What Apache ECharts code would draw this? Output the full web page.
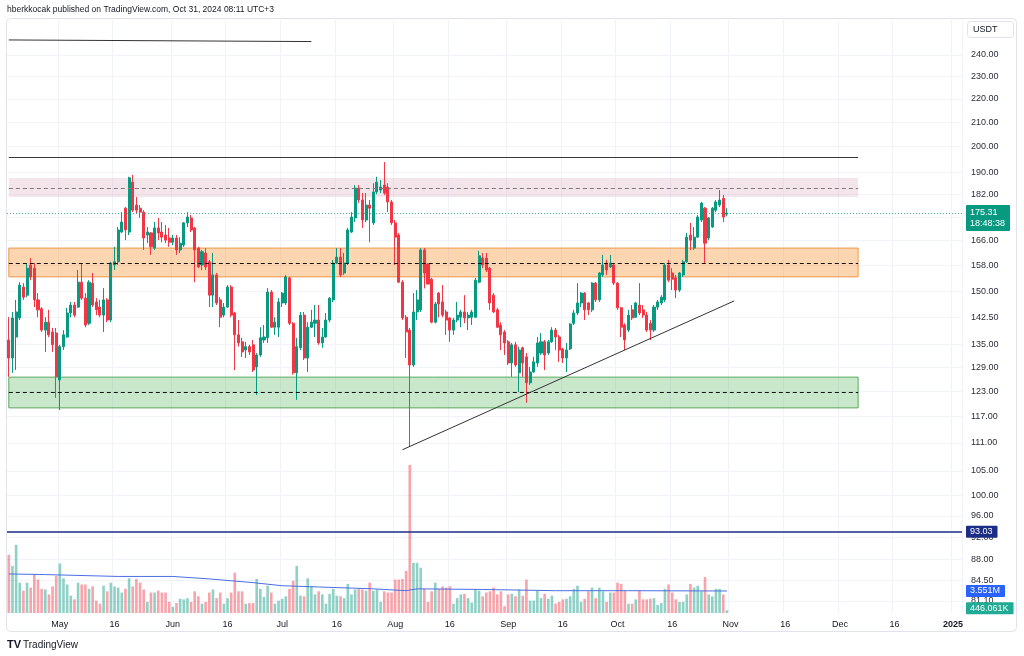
<!DOCTYPE html>
<html>
<head>
<meta charset="utf-8">
<script src="https://cdn.jsdelivr.net/npm/echarts@6/dist/echarts.min.js"></script>
<style>html,body{margin:0;padding:0;background:#fff}#c{width:1024px;height:656px}</style>
</head>
<body>
<div id="c"></div>
<script>
// ---------------- data ----------------
const headerText = 'hberkkocak published on TradingView.com, Oct 31, 2024 08:11 UTC+3';
const startDate = '2024-04-17';
const dayCount = 262; // visible daily slots, Apr 17 2024 .. Jan 3 2025

// daily candles [open, close, low, high]
const candles = [
[136.2,131.4,126.6,142.5],[131.4,142.3,127.6,144.0],[137.0,144.0,128.3,147.5],[142.3,151.9,141.7,152.8],[151.3,148.3,147.5,152.5],
[148.9,157.1,148.3,158.7],[158.1,154.4,153.4,160.3],[157.1,147.5,145.4,158.7],[147.5,144.6,142.5,149.5],[144.9,138.9,138.4,145.4],
[138.9,141.1,133.0,142.5],[141.1,137.6,137.0,144.6],[138.4,134.9,133.0,139.5],[138.1,126.6,121.4,139.5],[125.8,134.4,118.5,134.9],
[134.4,137.6,133.5,138.9],[137.0,143.7,136.8,145.2],[143.7,146.0,142.5,146.9],[146.0,143.1,142.5,146.9],[145.4,152.8,145.2,156.5],
[152.8,148.0,147.5,158.7],[148.0,140.3,139.7,149.5],[140.8,152.8,140.3,153.4],[152.5,146.0,145.4,155.6],[146.9,144.6,143.1,148.0],
[145.4,143.1,142.5,147.5],[143.1,147.5,138.4,151.0],[147.5,141.7,141.1,148.0],[141.7,158.7,141.1,159.1],[158.1,159.1,156.5,163.9],
[159.1,169.5,158.1,170.5],[168.8,172.2,168.5,175.6],[177.0,169.5,166.1,177.4],[168.8,188.0,167.8,188.4],[186.4,176.3,175.6,189.1],
[178.1,176.3,175.3,181.0],[177.0,175.6,173.6,178.1],[175.6,166.8,162.9,176.3],[167.8,168.8,165.1,170.5],[168.5,163.9,161.3,168.8],
[163.5,170.2,162.9,172.2],[170.2,168.5,166.1,173.6],[168.8,167.1,165.4,172.2],[167.8,166.1,165.1,171.2],[166.8,165.4,163.9,170.2],
[165.4,166.8,164.5,167.8],[166.8,162.9,161.3,167.8],[162.9,165.1,161.9,167.1],[164.5,171.9,163.9,172.2],[171.9,173.9,170.5,175.6],
[173.6,169.5,168.8,174.6],[170.2,162.9,152.8,170.5],[163.5,157.5,157.1,163.9],[158.1,162.3,156.5,162.9],[161.9,157.5,156.5,163.5],
[159.1,148.9,145.4,159.7],[148.9,155.0,145.4,161.9],[155.0,146.6,146.0,155.6],[147.5,142.5,139.7,148.3],[143.1,145.4,142.5,146.6],
[145.4,151.3,145.2,151.9],[151.3,143.1,142.5,151.9],[143.7,137.6,128.3,144.0],[137.6,135.4,134.4,141.7],[135.7,133.0,131.7,136.8],
[133.5,134.4,131.4,135.7],[134.4,133.0,132.2,134.9],[134.9,128.3,127.8,136.2],[129.1,132.2,122.1,132.7],[132.2,136.8,131.7,139.7],
[136.2,137.0,135.4,140.3],[136.8,149.8,135.4,151.0],[149.8,139.7,139.5,150.4],[139.7,141.1,137.6,142.5],[139.7,146.9,137.0,148.0],
[146.6,149.5,145.4,149.8],[146.6,154.4,146.0,155.0],[154.1,140.8,140.3,154.4],[140.8,127.6,127.1,141.1],[127.6,134.4,120.9,136.8],
[134.1,143.1,133.5,144.0],[143.1,131.4,130.9,144.0],[131.4,139.7,127.8,141.1],[139.7,141.1,139.5,144.6],[140.8,141.7,137.0,146.0],
[141.7,135.4,134.9,146.0],[135.4,137.0,134.1,139.5],[137.0,141.7,136.8,143.7],[141.7,148.0,141.1,148.3],[147.5,158.7,146.9,159.7],
[158.7,160.6,158.4,163.5],[160.6,155.0,154.4,163.5],[155.6,158.7,155.0,161.9],[158.7,169.5,158.1,170.2],[168.8,173.9,168.5,175.6],
[173.6,184.2,172.2,185.3],[184.2,179.9,178.8,185.3],[179.9,172.9,170.2,182.4],[172.9,178.1,172.2,182.4],[178.1,177.0,165.4,179.9],
[171.9,182.8,171.2,186.0],[182.8,186.4,182.0,188.4],[183.5,184.6,182.4,187.2],[185.3,182.4,181.7,194.0],[184.6,179.2,175.6,186.0],
[179.2,171.9,171.2,179.9],[171.9,167.1,158.1,172.9],[167.8,152.8,152.5,168.5],[152.8,142.3,141.7,153.4],[142.5,138.4,131.4,143.1],
[138.9,129.6,110.1,139.5],[129.6,144.0,129.1,149.5],[144.0,147.5,141.7,150.4],[144.6,162.9,144.0,163.5],[162.9,155.6,150.9,163.5],
[158.4,152.2,152.2,158.7],[153.7,141.1,140.8,154.1],[141.1,146.3,140.8,146.9],[149.5,146.3,142.5,149.8],[146.9,143.1,142.5,151.9],
[144.0,141.7,137.6,144.6],[142.3,138.9,135.7,142.5],[138.9,141.7,137.6,142.3],[141.7,143.1,141.1,146.9],[142.5,144.0,139.7,144.6],
[144.0,142.3,140.8,148.9],[142.3,143.1,138.9,144.0],[142.5,144.0,140.3,144.6],[142.5,153.4,142.3,154.1],[152.8,161.0,152.5,162.6],
[160.3,158.1,157.1,161.9],[160.3,156.5,155.9,161.9],[157.1,146.6,144.6,157.5],[148.9,144.0,143.7,149.5],[144.6,139.7,139.5,145.2],
[140.3,137.6,133.5,141.1],[138.4,135.4,132.2,138.9],[135.7,130.1,129.6,136.2],[130.1,134.9,126.6,135.4],[134.9,129.6,129.1,135.7],
[127.6,133.5,122.8,134.4],[134.1,130.1,126.6,134.4],[131.7,125.1,120.2,132.7],[125.1,127.8,124.6,129.1],[127.8,130.4,127.6,131.7],
[130.1,135.4,129.1,137.0],[132.7,135.7,132.2,138.1],[135.7,132.2,128.3,136.2],[132.7,135.7,132.2,136.2],[135.7,138.9,135.4,139.7],
[138.9,137.0,133.5,139.5],[137.0,133.5,130.4,137.6],[133.8,131.4,130.1,134.1],[131.4,133.5,127.8,135.4],[133.8,140.6,133.5,140.8],
[140.8,143.7,140.3,144.6],[143.7,146.6,143.1,152.5],[146.6,149.5,145.4,149.8],[149.5,144.6,141.7,149.8],[146.6,144.6,143.1,146.9],
[144.6,152.5,144.0,152.8],[152.5,147.5,146.9,152.8],[147.5,155.6,146.9,155.9],[155.0,158.1,154.4,161.3],[158.7,156.5,155.0,159.7],
[157.5,158.7,157.1,161.3],[158.1,152.5,151.9,158.7],[152.5,145.2,144.6,152.8],[145.2,139.7,137.0,145.4],[140.3,136.2,133.5,140.8],
[138.9,143.1,138.4,144.6],[144.6,142.3,141.7,146.0],[142.5,146.6,142.3,146.9],[146.0,143.7,143.1,152.5],[144.6,143.1,142.3,146.0],
[143.1,138.9,138.4,144.0],[140.8,138.9,136.2,141.7],[138.9,145.4,138.4,146.0],[145.4,146.9,144.6,147.5],[146.6,148.3,146.0,148.9],
[147.5,158.1,146.9,158.7],[158.1,153.4,152.8,159.7],[155.6,153.7,150.4,157.1],[154.1,150.4,148.0,155.0],[150.4,155.6,149.8,155.9],
[155.0,159.1,154.4,159.7],[159.1,167.1,158.7,168.5],[167.8,166.1,162.9,171.9],[163.5,167.1,162.9,170.5],[167.1,173.9,166.8,174.6],
[172.9,178.8,172.2,179.2],[177.0,165.1,158.7,177.4],[166.8,173.6,166.1,173.9],[170.5,177.0,170.2,177.4],[176.3,179.2,175.6,179.9],
[178.1,179.9,177.4,183.5],[180.5,173.9,172.2,181.7],[174.9,175.31,174.2,177.0]
];

// daily volume, millions
const volumes = [
9.4,7.6,11.0,4.9,3.6,4.9,4.1,6.3,5.4,3.9,
3.8,3.0,4.3,6.0,8.0,5.6,4.6,2.8,2.2,4.9,
4.6,4.6,3.9,4.3,2.0,1.5,4.4,3.5,4.9,4.3,
4.1,3.3,3.9,5.6,4.3,5.5,4.9,3.8,1.8,3.3,
3.3,3.6,3.3,3.3,1.8,1.0,1.6,2.3,2.2,2.4,
1.8,3.5,2.7,1.5,1.8,3.3,3.8,2.4,3.3,1.5,
2.4,3.3,6.5,3.5,3.5,1.5,1.6,1.6,5.5,3.9,
2.6,4.4,3.3,1.5,2.0,2.3,2.7,3.9,5.2,7.6,
2.8,2.7,5.6,4.3,3.0,3.5,3.0,1.5,3.1,3.9,
2.8,2.7,2.4,4.7,3.0,3.8,3.9,3.8,3.6,4.9,
3.6,3.8,1.8,3.5,3.3,3.3,5.4,5.4,5.5,6.8,
23.9,8.1,8.1,7.3,3.9,1.8,3.5,4.9,3.9,4.3,
4.1,4.3,1.5,2.4,3.0,3.1,2.4,1.7,3.8,3.6,
2.7,3.3,3.5,4.1,3.0,3.5,1.1,3.0,3.1,2.7,
3.8,2.8,5.4,2.0,2.0,3.6,2.4,3.1,2.3,2.8,
1.5,1.8,2.2,2.3,2.7,3.9,4.4,1.8,2.3,3.5,
4.1,2.4,4.1,3.5,1.8,3.3,3.3,4.9,4.7,3.6,
1.5,1.5,2.2,3.6,2.2,2.2,2.3,2.4,1.3,1.6,
3.9,4.6,3.3,2.2,1.8,1.8,3.0,4.7,4.1,4.4,
3.5,5.8,3.0,2.7,3.9,3.9,3.0,0.446061
];

// volume moving average: [day index, millions]
const volumeMA = [[0,6.3],[10,6.2],[30,5.9],[45,5.9],[55,5.5],[67,4.9],[75,4.4],[85,4.2],[100,3.9],[109,3.6],[112,3.9],[130,3.8],[150,3.6],[170,3.6],[197,3.551]];

// price scale tick labels
const priceTicks = [240,230,220,210,200,190,182,174,166,158,150,142.5,135,129,123,117,111,105,100,96,92,88,84.5,81.1];

// drawn zones [low, high] and their mid dashed lines
const pinkZone = [181.0, 187.9];
const orangeZone = [154.4, 163.5];
const greenZone = [119.0, 126.5];
const zoneMids = [184.0, 158.5, 122.8];
const zoneEnd = 233;          // day index where zones end
const resistanceLine = 196.0;
const topLine = [[0, 247.3], [83, 246.5]];
const trendLine = [[108, 109.5], [199, 147.2]];
const lastPrice = 175.31;
const countdown = '18:48:38';
const blueLevel = 93.03;
const volMALast = '3.551M';
const lastVolume = '446.061K';
const MONTHS = ['Jan','Feb','Mar','Apr','May','Jun','Jul','Aug','Sep','Oct','Nov','Dec'];

// ---------------- chart ----------------
const categories = [];
{
  const d0 = new Date(startDate + 'T00:00:00Z');
  for (let i = 0; i < dayCount; i++) {
    const d = new Date(d0.getTime() + i * 86400000);
    categories.push(d.toISOString().slice(0, 10));
  }
}
const isTickDay = (val) => { const d = +val.slice(8, 10); return d === 1 || d === 16; };

const FONT = "'Liberation Sans', Arial, sans-serif";
const TXT = '#131722';
const UP = '#089981', DOWN = '#f23645';
const NOLINE = 'rgba(0,0,0,0)';

const chart = echarts.init(document.getElementById('c'));

const volumeData = volumes.map((v, i) => ({
  value: v,
  itemStyle: { color: candles[i][1] >= candles[i][0] ? 'rgba(8,153,129,0.45)' : 'rgba(242,54,69,0.45)' }
}));

const seg = (a, b, style) => [{ coord: a, lineStyle: style }, { coord: b }];
const boxLabel = (text, bg, pad) => ({
  show: true, position: 'end', distance: 4, formatter: text, backgroundColor: bg, color: '#fff',
  padding: pad || [1, 5, 1, 4], fontSize: 9, lineHeight: 10, fontFamily: FONT, borderRadius: 1
});

const option = {
  animation: false,
  backgroundColor: '#ffffff',
  title: {
    text: headerText, left: 7, top: 5, padding: 0,
    textStyle: { fontSize: 8.5, fontWeight: 'normal', color: TXT, fontFamily: FONT }
  },
  grid: { left: 7, right: 62, top: 20, bottom: 43, containLabel: false, outerBoundsMode: 'none' },
  xAxis: {
    type: 'category', data: categories, boundaryGap: true,
    axisLine: { show: false }, axisTick: { show: false },
    axisLabel: {
      interval: (idx, val) => isTickDay(val),
      formatter: (val) => {
        const d = +val.slice(8, 10), m = +val.slice(5, 7);
        if (d === 16) return '16';
        if (m === 1) return '{b|' + val.slice(0, 4) + '}';
        return MONTHS[m - 1];
      },
      color: TXT, fontSize: 9, fontFamily: FONT, margin: 7,
      rich: { b: { fontWeight: 'bold', fontSize: 9, color: TXT, fontFamily: FONT } }
    },
    splitLine: { show: true, interval: (idx, val) => isTickDay(val), lineStyle: { color: '#f0f3fa', width: 1, type: 'solid' } }
  },
  yAxis: [
    { type: 'log', logBase: 10, min: 79.15, max: 257.3, show: false },
    { type: 'value', min: 0, max: 95.7, show: false }
  ],
  series: [
    { // price grid lines + tick labels
      name: 'ticks', type: 'line', data: [], yAxisIndex: 0, silent: true,
      markLine: {
        silent: true, symbol: ['none', 'none'], z: 0, animation: false,
        lineStyle: { color: '#f0f3fa', width: 1, type: 'solid' },
        label: { show: true, position: 'end', distance: 9, color: '#2a2e39', fontSize: 9, fontFamily: FONT },
        emphasis: { disabled: true },
        data: priceTicks.map(v => ({ yAxis: v, label: { formatter: v.toFixed(2) } }))
      }
    },
    {
      name: 'price', type: 'candlestick', data: candles, yAxisIndex: 0, z: 3, barWidth: '70%',
      itemStyle: { color: UP, color0: DOWN, borderColor: UP, borderColor0: DOWN, borderColorDoji: UP, borderWidth: 1 },
      markArea: {
        silent: true, z: 1,
        data: [
          [{ coord: [0, pinkZone[1]], itemStyle: { color: 'rgba(214,160,180,0.28)', borderWidth: 0 } }, { coord: [zoneEnd, pinkZone[0]] }],
          [{ coord: [0, orangeZone[1]], itemStyle: { color: 'rgba(247,147,50,0.38)', borderColor: '#f0994a', borderWidth: 1 } }, { coord: [zoneEnd, orangeZone[0]] }],
          [{ coord: [0, greenZone[1]], itemStyle: { color: 'rgba(76,175,80,0.3)', borderColor: '#5aa85e', borderWidth: 1 } }, { coord: [zoneEnd, greenZone[0]] }]
        ]
      }
    },
    { // drawn lines
      name: 'drawings', type: 'line', data: [], yAxisIndex: 0, silent: true,
      markLine: {
        silent: true, symbol: ['none', 'none'], z: 5, animation: false,
        label: { show: false }, emphasis: { disabled: true },
        data: [
          seg([0, zoneMids[0]], [zoneEnd, zoneMids[0]], { color: '#7a7a7a', width: 1, type: [4, 3] }),
          seg([0, zoneMids[1]], [zoneEnd, zoneMids[1]], { color: '#111', width: 1, type: [4, 3] }),
          seg([0, zoneMids[2]], [zoneEnd, zoneMids[2]], { color: '#111', width: 1, type: [4, 3] }),
          seg([0, resistanceLine], [zoneEnd, resistanceLine], { color: '#3a3a3a', width: 1.2, type: 'solid' }),
          seg(topLine[0], topLine[1], { color: '#333', width: 1, type: 'solid' }),
          seg(trendLine[0], trendLine[1], { color: '#333', width: 1, type: 'solid' })
        ]
      }
    },
    {
      name: 'volume', type: 'bar', data: volumeData, yAxisIndex: 1, barWidth: '72%', z: 2, silent: true
    },
    {
      name: 'volumeMA', type: 'line', data: volumeMA, yAxisIndex: 1, symbol: 'none', z: 3, silent: true,
      lineStyle: { color: '#4a6fe3', width: 1 }
    },
    { // price level + last price labels
      name: 'levels', type: 'line', data: [], yAxisIndex: 0, silent: true,
      markLine: {
        silent: true, symbol: ['none', 'none'], z: 6, animation: false, emphasis: { disabled: true },
        data: [
          { yAxis: lastPrice, lineStyle: { color: 'rgba(8,153,129,0.75)', width: 1, type: [1, 2] },
            label: Object.assign(boxLabel(lastPrice.toFixed(2) + '\n' + countdown, UP, [2, 5, 2, 4]), { lineHeight: 11, offset: [0, 5] }) },
          { yAxis: blueLevel, lineStyle: { color: '#1b2d86', width: 1.5, type: 'solid' },
            label: boxLabel(blueLevel.toFixed(2), '#1b2d86') }
        ]
      }
    },
    { // volume labels
      name: 'volLabels', type: 'line', data: [], yAxisIndex: 1, silent: true,
      markLine: {
        silent: true, symbol: ['none', 'none'], z: 6, animation: false, emphasis: { disabled: true },
        lineStyle: { color: NOLINE, width: 0, type: 'solid' },
        data: [
          { yAxis: volumeMA[volumeMA.length - 1][1], label: boxLabel(volMALast, '#2962ff') },
          { yAxis: volumes[volumes.length - 1], label: Object.assign(boxLabel(lastVolume, '#22ab94'), { offset: [0, -2] }) }
        ]
      }
    }
  ],
  graphic: [
    { type: 'rect', silent: true, z: -10, shape: { x: 6.5, y: 18.5, width: 1010, height: 613, r: 4 },
      style: { fill: 'none', stroke: '#e0e3eb', lineWidth: 1 } },
    { type: 'rect', silent: true, z: 10, shape: { x: 967.5, y: 21.5, width: 46, height: 16, r: 3 },
      style: { fill: '#fff', stroke: '#e0e3eb', lineWidth: 1 } },
    { type: 'text', silent: true, z: 11, x: 973, y: 29.5,
      style: { text: 'USDT', fill: TXT, font: '9px ' + FONT, verticalAlign: 'middle' } },
    { type: 'text', silent: true, z: 11, x: 7, y: 645,
      style: { text: 'TV', fill: TXT, font: 'bold 11px ' + FONT, verticalAlign: 'middle' } },
    { type: 'text', silent: true, z: 11, x: 23, y: 645,
      style: { text: 'TradingView', fill: TXT, font: '10px ' + FONT, verticalAlign: 'middle' } }
  ]
};
chart.setOption(option);
</script>
</body>
</html>
